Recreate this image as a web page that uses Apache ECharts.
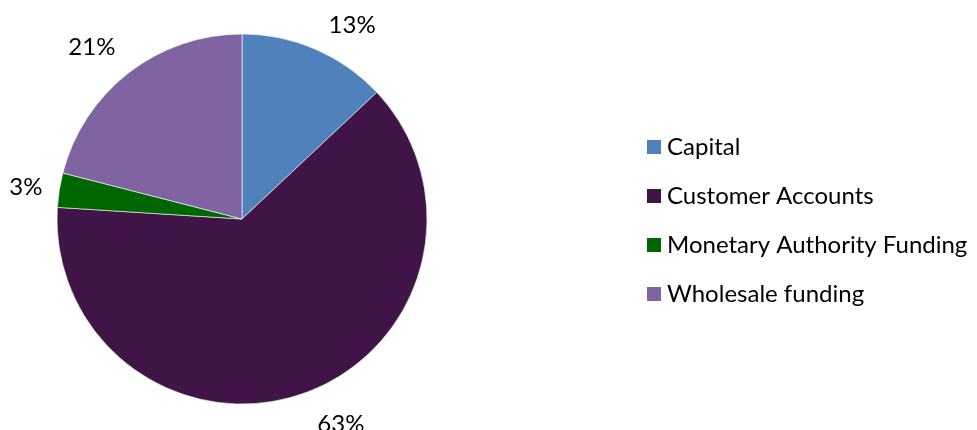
<!DOCTYPE html>
<html><head><meta charset="utf-8">
<script src="https://cdn.jsdelivr.net/npm/echarts@6/dist/echarts.min.js"></script>
<style>html,body{margin:0;padding:0;background:#fff}#c{width:977px;height:430px}</style>
</head><body><div id="c"></div>
<script>
const categories = ['Capital', 'Customer Accounts', 'Monetary Authority Funding', 'Wholesale funding'];
const values = [13, 63, 3, 21];
const colors = ['#4F81BD', '#401446', '#006600', '#8064A2'];
// nudges of the percentage labels away from the exact mid-angle (style only)
const labelNudge = [[20, 15], [22, -8], [8, 4], [-11, 8]];
const FONT = 'Lato';
const chart = echarts.init(document.getElementById('c'));
const data = categories.map((n, i) => ({ name: n, value: values[i], itemStyle: { color: colors[i] } }));
chart.setOption({
  animation: false,
  legend: {
    orient: 'vertical', left: 640, top: 130,
    itemWidth: 16, itemHeight: 16, itemGap: 25,
    icon: 'rect',
    data: categories,
    textStyle: { fontFamily: FONT, fontSize: 24, color: '#000', lineHeight: 24 }
  },
  series: [
    {
      type: 'pie', center: [242, 219], radius: [0, 185], startAngle: 90, clockwise: true,
      data: data, label: { show: false }, labelLine: { show: false },
      itemStyle: { borderColor: '#ffffff', borderWidth: 0.6 }, silent: true
    },
    {
      type: 'pie', center: [242, 219], radius: [220, 228], startAngle: 90, clockwise: true,
      data: categories.map((n, i) => ({
        name: n, value: values[i], itemStyle: { color: 'rgba(0,0,0,0)' },
        label: { offset: labelNudge[i] }
      })),
      label: { show: true, position: 'inside', formatter: '{d}%', fontFamily: FONT, fontSize: 24, color: '#000' },
      labelLine: { show: false }, silent: true, legendHoverLink: false
    }
  ]
});
</script></body></html>
